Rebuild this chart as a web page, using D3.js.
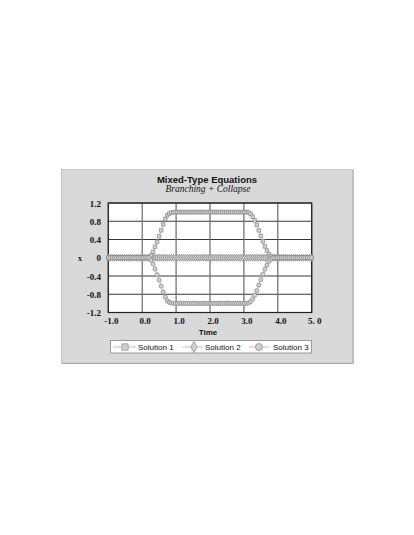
<!DOCTYPE html>
<html><head><meta charset="utf-8">
<script src="https://cdn.jsdelivr.net/npm/d3@7"></script>
<style>html,body{margin:0;padding:0;background:#fff;}svg{display:block;}</style>
</head><body>
<svg id="c" width="414" height="535"></svg>
<script>
const time = [-1,-0.94,-0.88,-0.82,-0.76,-0.7,-0.64,-0.58,-0.52,-0.46,-0.4,-0.34,-0.28,-0.22,-0.16,-0.1,-0.04,0.02,0.08,0.14,0.2,0.26,0.32,0.38,0.44,0.5,0.56,0.62,0.68,0.74,0.8,0.86,0.92,0.98,1.04,1.1,1.16,1.22,1.28,1.34,1.4,1.46,1.52,1.58,1.64,1.7,1.76,1.82,1.88,1.94,2.0,2.06,2.12,2.18,2.24,2.3,2.36,2.42,2.48,2.54,2.6,2.66,2.72,2.78,2.84,2.9,2.96,3.02,3.08,3.14,3.2,3.26,3.32,3.38,3.44,3.5,3.56,3.62,3.68,3.74,3.8,3.86,3.92,3.98,4.04,4.1,4.16,4.22,4.28,4.34,4.4,4.46,4.52,4.58,4.64,4.7,4.76,4.82,4.88,4.94,5.0];
const solution1 = [0,0,0,0,0,0,0,0,0,0,0,0,0,0,0,0,0,0,0,0,0,
  0.05,0.13,0.24,0.35,0.47,0.60,0.73,0.85,0.93,0.97,0.99,1.0,
  1,1,1,1,1,1,1,1,1,1,1,1,1,1,1,1,1,1,1,1,1,1,1,1,1,1,1,1,1,1,1,1,1,1,1,1,
  0.99,0.96,0.90,0.82,0.72,0.60,0.48,0.36,0.25,0.16,0.08,0.03,
  0,0,0,0,0,0,0,0,0,0,0,0,0,0,0,0,0,0,0,0];
const solution2 = [0,0,0,0,0,0,0,0,0,0,0,0,0,0,0,0,0,0,0,0,0,0,0,0,0,0,0,0,0,0,0,0,0,0,0,0,0,0,0,0,0,0,0,0,0,0,0,0,0,0,0,0,0,0,0,0,0,0,0,0,0,0,0,0,0,0,0,0,0,0,0,0,0,0,0,0,0,0,0,0,0,0,0,0,0,0,0,0,0,0,0,0,0,0,0,0,0,0,0,0,0];
const solution3 = [0,0,0,0,0,0,0,0,0,0,0,0,0,0,0,0,0,0,0,0,0,
  -0.05,-0.14,-0.25,-0.37,-0.49,-0.62,-0.75,-0.86,-0.94,-0.98,-0.99,-1.0,
  -1,-1,-1,-1,-1,-1,-1,-1,-1,-1,-1,-1,-1,-1,-1,-1,-1,-1,-1,-1,-1,-1,-1,-1,-1,-1,-1,-1,-1,-1,-1,-1,-1,-1,-1,-1,
  -0.99,-0.96,-0.90,-0.82,-0.72,-0.60,-0.48,-0.36,-0.25,-0.16,-0.08,-0.03,
  0,0,0,0,0,0,0,0,0,0,0,0,0,0,0,0,0,0,0,0];
const seriesNames = ["Solution 1","Solution 2","Solution 3"];
const seriesSymbols = ["square","diamond","circle"];
const xTicks = [-1,0,1,2,3,4,5];
const xTickLabels = ["-1.0","0.0","1.0","2.0","3.0","4.0","5. 0"];
const yTicks = [1.2,0.8,0.4,0,-0.4,-0.8,-1.2];
const yTickLabels = ["1.2","0.8","0.4","0","-0.4","-0.8","-1.2"];

const svg = d3.select("#c");
const L = 108.3, R = 311.7, T = 203, B = 312.5;
const x = d3.scaleLinear().domain([-1,5]).range([L,R]);
const y = d3.scaleLinear().domain([-1.2,1.2]).range([B,T]);

// panel
svg.append("rect").attr("x",61.5).attr("y",169.5).attr("width",291.5).attr("height",193.5)
  .attr("fill","#d9d9d9").attr("stroke","#c4c4c4");
svg.append("line").attr("x1",353).attr("x2",353).attr("y1",170).attr("y2",363.5).attr("stroke","#a8a8a8").attr("stroke-width",1);
svg.append("line").attr("x1",62).attr("x2",353.5).attr("y1",363.5).attr("y2",363.5).attr("stroke","#a8a8a8").attr("stroke-width",1);

// title
svg.append("text").attr("x",207).attr("y",182.5).attr("text-anchor","middle")
  .attr("font-family","Liberation Sans, Arial, sans-serif").attr("font-weight","bold").attr("font-size",9.5)
  .attr("fill","#111").text("Mixed-Type Equations");
svg.append("text").attr("x",208).attr("y",191.5).attr("text-anchor","middle")
  .attr("font-family","Liberation Serif, Times New Roman, serif").attr("font-style","italic").attr("font-size",9.5)
  .attr("fill","#111").text("Branching + Collapse");

// plot area
svg.append("rect").attr("x",L).attr("y",T).attr("width",R-L).attr("height",B-T).attr("fill","#fff");
const g = svg.append("g");
g.selectAll(".hg").data(yTicks).enter().append("line")
  .attr("x1",L).attr("x2",R).attr("y1",d=>y(d)).attr("y2",d=>y(d))
  .attr("stroke","#3a3a3a").attr("stroke-width",1);
g.selectAll(".vg").data(xTicks).enter().append("line")
  .attr("y1",T).attr("y2",B).attr("x1",d=>x(d)).attr("x2",d=>x(d))
  .attr("stroke","#6a6a6a").attr("stroke-width",1.2);
svg.append("rect").attr("x",L).attr("y",T).attr("width",R-L).attr("height",B-T)
  .attr("fill","none").attr("stroke","#222").attr("stroke-width",1.2);

// tick labels
svg.selectAll(".yl").data(yTicks).enter().append("text")
  .attr("x",101).attr("y",(d)=>y(d)+3.5).attr("text-anchor","end")
  .attr("font-family","Liberation Serif, Times New Roman, serif").attr("font-weight","bold").attr("font-size",9)
  .attr("fill","#111").text((d,i)=>yTickLabels[i]);
svg.selectAll(".xl").data(xTicks).enter().append("text")
  .attr("x",d=>x(d)+3).attr("y",324).attr("text-anchor","middle")
  .attr("font-family","Liberation Serif, Times New Roman, serif").attr("font-weight","bold").attr("font-size",9)
  .attr("fill","#111").text((d,i)=>xTickLabels[i]);
svg.append("text").attr("x",208).attr("y",334.5).attr("text-anchor","middle")
  .attr("font-family","Liberation Sans, Arial, sans-serif").attr("font-weight","bold").attr("font-size",8)
  .attr("fill","#111").text("Time");
svg.append("text").attr("x",80).attr("y",261).attr("text-anchor","middle")
  .attr("font-family","Liberation Serif, Times New Roman, serif").attr("font-weight","bold").attr("font-size",8)
  .attr("fill","#111").text("x");

// series
const symMap = {square:d3.symbolSquare, diamond:d3.symbolDiamond, circle:d3.symbolCircle};
const symSize = {square:13, diamond:14, circle:14};
const allData = [solution1, solution2, solution3];
const line = d3.line().x(d=>x(d.t)).y(d=>y(d.v));
const drawOrder = [1,0,2];
drawOrder.forEach(si=>{
  const pts = time.map((t,i)=>({t:t, v:allData[si][i]}));
  svg.append("path").datum(pts).attr("d",line).attr("fill","none")
    .attr("stroke","#f0a0a8").attr("stroke-width",0.8);
});
drawOrder.forEach(si=>{
  const pts = time.map((t,i)=>({t:t, v:allData[si][i]}));
  const sym = d3.symbol().type(symMap[seriesSymbols[si]]).size(symSize[seriesSymbols[si]]);
  svg.append("g").selectAll("path").data(pts).enter().append("path")
    .attr("transform",d=>`translate(${x(d.t)},${y(d.v)})`)
    .attr("d",sym).attr("fill","#cfcfcf").attr("stroke","#8a8a8a").attr("stroke-width",0.7);
});

// legend
svg.append("rect").attr("x",110.5).attr("y",340.5).attr("width",201).attr("height",12.5)
  .attr("fill","#fff").attr("stroke","#9a9a9a");
const legX = [{l1:113,l2:136,m:125,tx:138},{l1:183,l2:203,m:194,tx:205},{l1:249,l2:269,m:259,tx:273}];
seriesNames.forEach((nm,i)=>{
  const ly = 347;
  svg.append("line").attr("x1",legX[i].l1).attr("x2",legX[i].l2).attr("y1",ly).attr("y2",ly)
    .attr("stroke","#f0a0a8").attr("stroke-width",0.9);
  const big = {square:40, diamond:36, circle:40};
  svg.append("path").attr("transform",`translate(${legX[i].m},${ly})`)
    .attr("d",d3.symbol().type(symMap[seriesSymbols[i]]).size(big[seriesSymbols[i]]))
    .attr("fill","#cfcfcf").attr("stroke","#8a8a8a").attr("stroke-width",0.7);
  svg.append("text").attr("x",legX[i].tx).attr("y",350)
    .attr("font-family","Liberation Sans, Arial, sans-serif").attr("font-size",8)
    .attr("fill","#111").text(nm);
});
</script>
</body></html>
